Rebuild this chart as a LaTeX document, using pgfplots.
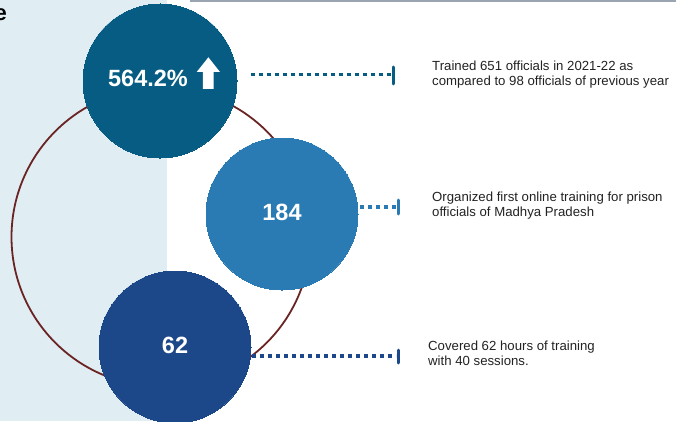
\documentclass[border=0pt]{standalone}
\usepackage{pgfplots}
\pgfplotsset{compat=1.18}
\usepackage{fontspec}
\setmainfont{Liberation Sans}
\definecolor{panel}{HTML}{E0EDF3}
\definecolor{topc}{HTML}{065C82}
\definecolor{midc}{HTML}{2A7AB4}
\definecolor{botc}{HTML}{1C4788}
\definecolor{ring}{HTML}{6B2424}
\definecolor{bar}{HTML}{9AA5B1}
\definecolor{txt}{HTML}{222222}
\begin{document}
\begin{tikzpicture}
\begin{axis}[name=ax, at={(0,0)}, anchor=south west, set layers=standard,
  width=676pt, height=421pt, scale only axis,
  xmin=0, xmax=676, ymin=0, ymax=421, y dir=reverse,
  axis lines=none, clip=false]
% background panel and top bar
\addplot[fill=panel, draw=none, on layer=axis background] coordinates {(0,0)(166.7,0)(166.7,421)(0,421)} -- cycle;
\addplot[fill=bar, draw=none, on layer=axis background] coordinates {(190,0)(676,0)(676,2.2)(190,2.2)} -- cycle;
% ring
\addplot[only marks, mark=o, mark size=149.5pt, mark options={draw=ring, line width=1.8pt}] coordinates {(161,237)};
% circles
\addplot[only marks, mark=*, mark size=77pt, mark options={fill=topc, draw=topc, line width=0pt}] coordinates {(160,81)};
\addplot[only marks, mark=*, mark size=76pt, mark options={fill=midc, draw=midc, line width=0pt}] coordinates {(282,214)};
\addplot[only marks, mark=*, mark size=76pt, mark options={fill=botc, draw=botc, line width=0pt}] coordinates {(175,347)};
% up arrow
\addplot[fill=white, draw=none, on layer=axis foreground] coordinates {(196.7,72)(208.4,57.3)(220,72)(213.6,72)(213.6,89)(202.8,89)(202.8,72)} -- cycle;
% dotted connectors
\addplot[topc, line width=3.5pt, dash pattern=on 4pt off 4pt, on layer=axis foreground] coordinates {(251,74.5)(391,74.5)};
\addplot[topc, line width=3pt, line cap=round, on layer=axis foreground] coordinates {(393,67)(393,84)};
\addplot[midc, line width=3.5pt, dash pattern=on 4pt off 4pt, on layer=axis foreground] coordinates {(360,207)(396,207)};
\addplot[midc, line width=3pt, line cap=round, on layer=axis foreground] coordinates {(398,200)(398,214)};
\addplot[botc, line width=3.5pt, dash pattern=on 4pt off 4pt, on layer=axis foreground] coordinates {(252,356)(396,356)};
\addplot[botc, line width=3pt, line cap=round, on layer=axis foreground] coordinates {(398,350)(398,363)};
\begin{pgfonlayer}{axis foreground}
% numbers
\node[white, font=\fontsize{23.5}{26}\selectfont\bfseries] at (axis cs:148,78) {564.2\%};
\node[white, font=\fontsize{23.5}{26}\selectfont\bfseries] at (axis cs:282,212) {184};
\node[white, font=\fontsize{23.5}{26}\selectfont\bfseries] at (axis cs:175,345) {62};
% descriptions
\node[txt, anchor=base west, align=left, inner sep=0pt, font=\fontsize{13.2}{15}\selectfont] at (axis cs:432,86) {Trained 651 officials in 2021-22 as\\compared to 98 officials of previous year};
\node[txt, anchor=base west, align=left, inner sep=0pt, font=\fontsize{13.2}{15}\selectfont] at (axis cs:432,216.5) {Organized first online training for prison\\officials of Madhya Pradesh};
\node[txt, anchor=base west, align=left, inner sep=0pt, font=\fontsize{13.2}{15}\selectfont] at (axis cs:428,365) {Covered 62 hours of training\\with 40 sessions.};
% cut-off title letter
\node[black, anchor=east, font=\fontsize{22}{24}\selectfont\bfseries] at (axis cs:10.5,15) {e};
\end{pgfonlayer}
\end{axis}
\pgfresetboundingbox
\path[use as bounding box] (ax.south west) rectangle (ax.north east);
\end{tikzpicture}
\end{document}
